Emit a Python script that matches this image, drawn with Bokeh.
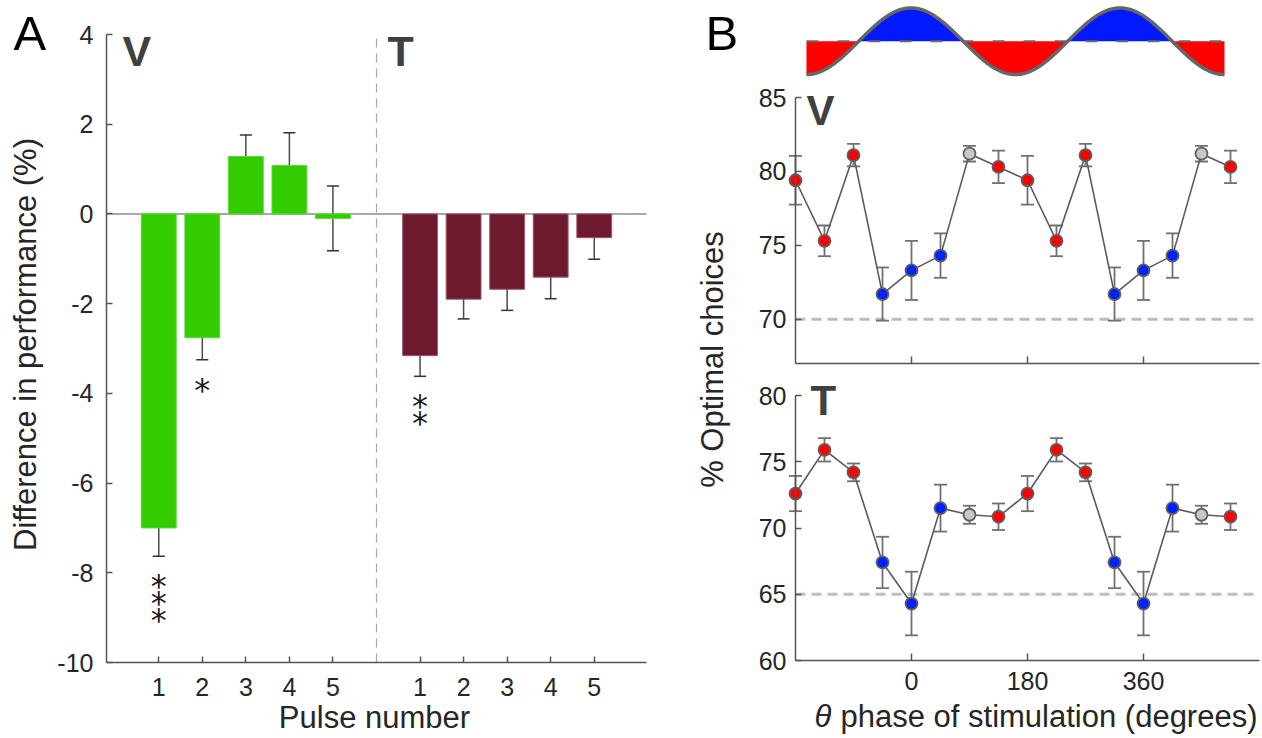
import numpy as np
from math import pi
from bokeh.plotting import figure
from bokeh.models import (ColumnDataSource, FixedTicker, Label, Whisker, TeeHead,
                          Range1d, LinearAxis)
from bokeh.embed import file_html
from bokeh.resources import INLINE
from bokeh.core.properties import value

W, H = 1262, 738
FONT = "Liberation Sans"
TICK_FS = "25px"
LABEL_FS_PX = 31
AXIS_COLOR = "#555555"
TICK_LABEL_COLOR = "#262626"
PANEL_TAG_COLOR = "#404040"

# ---------------- Panel A data ----------------
pulse_numbers = [1, 2, 3, 4, 5]
pulse_tick_labels = ["1", "2", "3", "4", "5"]
v_diff = [-7.00, -2.76, 1.28, 1.08, -0.10]
v_diff_err = [0.63, 0.49, 0.48, 0.73, 0.72]
v_stars = [3, 1, 0, 0, 0]
t_diff = [-3.16, -1.90, -1.68, -1.41, -0.53]
t_diff_err = [0.46, 0.44, 0.47, 0.48, 0.48]
t_stars = [2, 0, 0, 0, 0]
diff_ticks = [-10, -8, -6, -4, -2, 0, 2, 4]
group_gap = 6          # T group drawn after the V group; separator at x = 6
a_xlim = (-0.2, 12.2)
a_ylim = (-10, 4)

# ---------------- Panel B data ----------------
phase_deg = [-180, -135, -90, -45, 0, 45, 90, 135, 180, 225, 270, 315, 360, 405, 450, 495]
phase_class = ["red", "red", "red", "blue", "blue", "blue", "gray", "red",
               "red", "red", "red", "blue", "blue", "blue", "gray", "red"]
v_optimal = [79.4, 75.3, 81.1, 71.7, 73.3, 74.3, 81.2, 80.3,
             79.4, 75.3, 81.1, 71.7, 73.3, 74.3, 81.2, 80.3]
v_optimal_err = [1.65, 1.04, 0.76, 1.80, 2.00, 1.50, 0.53, 1.10,
                 1.65, 1.04, 0.76, 1.80, 2.00, 1.50, 0.53, 1.10]
t_optimal = [72.6, 75.9, 74.2, 67.4, 64.3, 71.5, 71.0, 70.85,
             72.6, 75.9, 74.2, 67.4, 64.3, 71.5, 71.0, 70.85]
t_optimal_err = [1.33, 0.88, 0.67, 1.94, 2.40, 1.77, 0.68, 1.00,
                 1.33, 0.88, 0.67, 1.94, 2.40, 1.77, 0.68, 1.00]
v_reference = 70
t_reference = 65
phase_ticks = [0, 180, 360]
phase_lim = (-180, 540)
v_ylim = (67, 85)
t_ylim = (60, 80)
v_yticks = [70, 75, 80, 85]
t_yticks = [60, 65, 70, 75, 80]

# schematic stimulation waveform (two cycles)
sine_phase_deg = np.linspace(0, 720, 361)
sine_wave = -np.cos(np.radians(sine_phase_deg))

class_colors = {"red": "#FF0000", "blue": "#0022FF", "gray": "#C8C8C8"}


# ---------------- ranges: map data anchors to pixel anchors of the canvas ----------------
def x_range_for(d0, px0, d1, px1):
    k = (px1 - px0) / (d1 - d0)
    start = d0 - px0 / k
    return Range1d(start, start + W / k)


def y_range_for(d0, py0, d1, py1):
    q0, q1 = H - py0, H - py1
    k = (q1 - q0) / (d1 - d0)
    start = d0 - q0 / k
    return Range1d(start, start + H / k)


p = figure(width=W, height=H,
           x_range=x_range_for(a_xlim[0], 106, a_xlim[1], 646),
           y_range=y_range_for(a_ylim[0], 662, a_ylim[1], 34),
           x_axis_type=None, y_axis_type=None, min_border=0,
           output_backend="svg", toolbar_location=None)
p.extra_x_ranges = {"phase": x_range_for(phase_lim[0], 795, phase_lim[1], 1259),
                    "wave": x_range_for(0, 806, 720, 1224)}
p.extra_y_ranges = {"v": y_range_for(v_ylim[0], 363, v_ylim[1], 97),
                    "t": y_range_for(t_ylim[0], 660, t_ylim[1], 395),
                    "wave": y_range_for(-1, 74, 1, 7.5)}
p.outline_line_color = None
p.background_fill_color = "white"
p.border_fill_color = "white"


def make_axis(side, ticks, standoff, overrides=None, tick_len=6, **kw):
    ax = LinearAxis(ticker=FixedTicker(ticks=ticks), **kw)
    ax.axis_line_color = AXIS_COLOR
    ax.axis_line_width = 1.5
    ax.major_tick_line_color = AXIS_COLOR
    ax.major_tick_line_width = 1.5
    ax.major_tick_in = tick_len
    ax.major_tick_out = 0
    ax.minor_tick_line_color = None
    ax.major_label_text_font = FONT
    ax.major_label_text_font_size = TICK_FS
    ax.major_label_text_color = TICK_LABEL_COLOR
    ax.major_label_standoff = standoff
    if overrides is not None:
        ax.major_label_overrides = overrides
    p.add_layout(ax, side)
    return ax


# ======================= Panel A =======================
xs_v = list(pulse_numbers)
xs_t = [n + group_gap for n in pulse_numbers]
separator_x = pulse_numbers[-1] + 1

make_axis("left", diff_ticks, 13, overrides={t: str(t) for t in diff_ticks},
          fixed_location=a_xlim[0], bounds=a_ylim)
make_axis("below", xs_v + xs_t, 15,
          overrides={x: lab for x, lab in zip(xs_v + xs_t, pulse_tick_labels * 2)},
          fixed_location=a_ylim[0], bounds=a_xlim)

p.line(x=list(a_xlim), y=[0, 0], line_color="#8C8C8C", line_width=1.5, level="underlay")
p.line(x=[separator_x, separator_x], y=list(a_ylim), line_color="#A8A8A8",
       line_width=1.2, line_dash="9 6", level="underlay")

for xs, vals, errs, fill, edge in [(xs_v, v_diff, v_diff_err, "#33CC00", "#55DD33"),
                                   (xs_t, t_diff, t_diff_err, "#6D1A2E", "#A0566A")]:
    src = ColumnDataSource(dict(x=xs, top=vals,
                                upper=[v + e for v, e in zip(vals, errs)],
                                lower=[v - e for v, e in zip(vals, errs)]))
    p.add_layout(Whisker(source=src, base="x", upper="upper", lower="lower",
                         line_color="#4A4A4A", line_width=1.5, level="underlay",
                         upper_head=TeeHead(size=12, line_color="#333333", line_width=1.5),
                         lower_head=TeeHead(size=12, line_color="#333333", line_width=1.5)))
    p.vbar(x="x", top="top", bottom=0, width=0.8, source=src,
           fill_color=fill, line_color=edge, line_width=1)

star_x, star_y, star_off = [], [], []
for xs, vals, errs, stars in [(xs_v, v_diff, v_diff_err, v_stars),
                              (xs_t, t_diff, t_diff_err, t_stars)]:
    for x, v, e, n in zip(xs, vals, errs, stars):
        for k in range(n):
            star_x.append(x)
            star_y.append(v - e)
            star_off.append(30 + 17 * k)
star_src = ColumnDataSource(dict(x=star_x, y=star_y, off=star_off, t=["*"] * len(star_x)))
p.text(x="x", y="y", text="t", y_offset="off", source=star_src,
       text_font=value("DejaVu Sans"), text_font_size="32px", text_color="#1A1A1A",
       text_align="center", text_baseline="alphabetic")

# ======================= Panel B: waveform schematic =======================
p.varea(x=sine_phase_deg, y1=np.minimum(sine_wave, 0), y2=0, fill_color="#FF0000",
        x_range_name="wave", y_range_name="wave")
p.varea(x=sine_phase_deg, y1=0, y2=np.maximum(sine_wave, 0), fill_color="#0019FF",
        x_range_name="wave", y_range_name="wave")
p.line(x=[0, 720], y=[0, 0], line_color="#6A6A6A", line_width=2, line_dash="12 19",
       x_range_name="wave", y_range_name="wave")
p.line(sine_phase_deg, sine_wave, line_color="#666666", line_width=3.5,
       x_range_name="wave", y_range_name="wave")


# ======================= Panel B: V and T =======================
def phase_panel(rname, ylim, yticks, vals, errs, ref, show_xlabels):
    make_axis("left", yticks, 9, x_range_name="phase", y_range_name=rname,
              fixed_location=phase_lim[0], bounds=ylim)
    overrides = None if show_xlabels else {t: "" for t in phase_ticks}
    make_axis("below", phase_ticks, 11, overrides=overrides, tick_len=7,
              x_range_name="phase", y_range_name=rname,
              fixed_location=ylim[0], bounds=phase_lim)
    p.line(x=list(phase_lim), y=[ref, ref], line_color="#BDBDBD", line_width=3,
           line_dash="10 6", level="underlay", x_range_name="phase", y_range_name=rname)
    src = ColumnDataSource(dict(x=phase_deg, y=vals,
                                upper=[v + e for v, e in zip(vals, errs)],
                                lower=[v - e for v, e in zip(vals, errs)],
                                color=[class_colors[c] for c in phase_class]))
    p.add_layout(Whisker(source=src, base="x", upper="upper", lower="lower",
                         x_range_name="phase", y_range_name=rname,
                         line_color="#707070", line_width=1.8, level="underlay",
                         upper_head=TeeHead(size=13, line_color="#707070", line_width=1.8),
                         lower_head=TeeHead(size=13, line_color="#707070", line_width=1.8)))
    p.line(x="x", y="y", source=src, line_color="#5A5A5A", line_width=1.6,
           x_range_name="phase", y_range_name=rname)
    p.scatter(x="x", y="y", source=src, size=12, fill_color="color",
              line_color="#5F5F5F", line_width=1.8,
              x_range_name="phase", y_range_name=rname)


phase_panel("v", v_ylim, v_yticks, v_optimal, v_optimal_err, v_reference, False)
phase_panel("t", t_ylim, t_yticks, t_optimal, t_optimal_err, t_reference, True)


# ======================= texts (canvas pixels; baseline given in page y) =======================
def add_text(text, x, baseline_y, size_px, color="black", style="normal", align="left"):
    # Bokeh places the alphabetic baseline about 0.41 em below the anchor
    p.add_layout(Label(x=x, y=H - baseline_y + 0.41 * size_px, x_units="screen",
                       y_units="screen", text=text, text_font=FONT,
                       text_font_size=f"{size_px}px", text_color=color,
                       text_font_style=style, text_align=align,
                       text_baseline="alphabetic"))


def add_vtext(text, baseline_x, center_y, size_px, color=TICK_LABEL_COLOR):
    p.add_layout(Label(x=baseline_x - 0.41 * size_px, y=H - center_y, x_units="screen",
                       y_units="screen", text=text, text_font=FONT,
                       text_font_size=f"{size_px}px", text_color=color, angle=pi / 2,
                       text_align="center", text_baseline="alphabetic"))


add_text("A", 13, 53, 49)
add_text("B", 705, 53, 49)
add_text("V", 122, 68, 43, color=PANEL_TAG_COLOR, style="bold")
add_text("T", 387, 68, 43, color=PANEL_TAG_COLOR, style="bold")
add_text("V", 806, 127, 42, color=PANEL_TAG_COLOR, style="bold")
add_text("T", 810, 417, 42, color=PANEL_TAG_COLOR, style="bold")
add_vtext("Difference in performance (%)", 38, 344, LABEL_FS_PX)
add_text("Pulse number", 374, 730, LABEL_FS_PX, color=TICK_LABEL_COLOR, align="center")
add_vtext("% Optimal choices", 725, 359, LABEL_FS_PX)
add_text("\u03b8", 814, 729, LABEL_FS_PX, color=TICK_LABEL_COLOR, style="italic")
add_text("phase of stimulation (degrees)", 840, 729, LABEL_FS_PX, color=TICK_LABEL_COLOR)

open("out.html", "w").write(file_html(p, INLINE))
